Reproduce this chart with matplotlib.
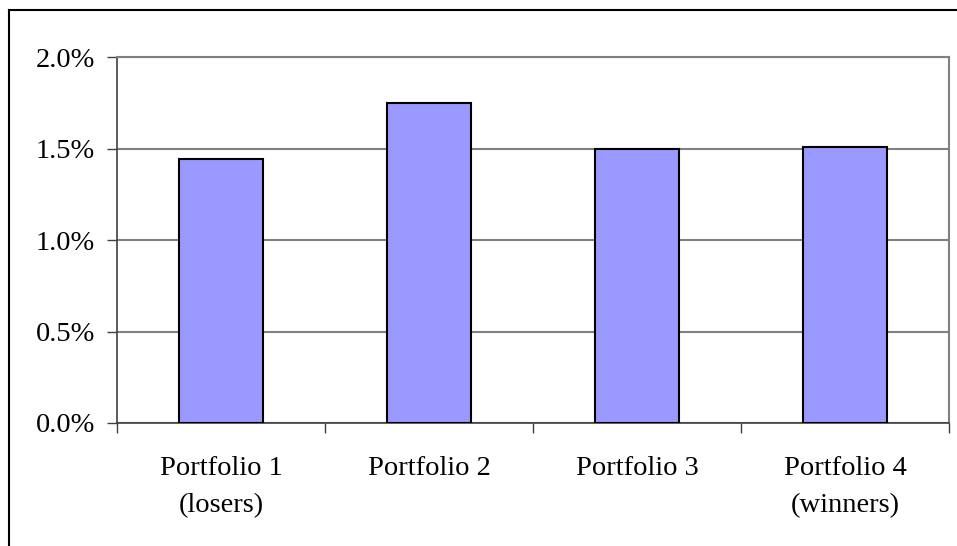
import matplotlib.pyplot as plt
from matplotlib.lines import Line2D
from matplotlib.ticker import FuncFormatter

# average monthly returns per momentum portfolio (%)
portfolios = ['Portfolio 1\n(losers)', 'Portfolio 2', 'Portfolio 3', 'Portfolio 4\n(winners)']
returns = [1.44, 1.75, 1.50, 1.51]
y_ticks = [0.0, 0.5, 1.0, 1.5, 2.0]

plt.rcParams['font.family'] = ['Liberation Serif', 'DejaVu Serif']

fig = plt.figure(figsize=(9.57, 5.46), dpi=100)
ax = fig.add_axes([117 / 957, 1 - 423 / 546, (949 - 117) / 957, (423 - 57) / 546])

x = range(len(portfolios))
ax.bar(x, returns, width=0.4, color='#9999FF', edgecolor='black', linewidth=1.5, zorder=3)

ax.set_xlim(-0.5, len(portfolios) - 0.5)
ax.set_ylim(0, 2.0)
ax.set_yticks(y_ticks)
ax.yaxis.set_major_formatter(FuncFormatter(lambda v, p: f'{v:.1f}%'))
ax.grid(axis='y', color='#808080', linewidth=1.5, zorder=0)

# labels under each bar, tick marks between categories
ax.set_xticks(list(x))
ax.set_xticklabels(portfolios, linespacing=1.6)
ax.set_xticks([i - 0.5 for i in range(len(portfolios) + 1)], minor=True)
ax.tick_params(axis='x', which='major', length=0, pad=24, labelsize=20.5)
ax.tick_params(axis='x', which='minor', length=7, width=1, color='#404040', direction='out')
ax.tick_params(axis='y', length=7, width=1, color='#404040', pad=9, labelsize=20.5)

for side in ['left', 'bottom']:
    ax.spines[side].set_color('#404040')
    ax.spines[side].set_linewidth(1.2)
for side in ['right', 'top']:
    ax.spines[side].set_color('#808080')
    ax.spines[side].set_linewidth(1.5)

# chart area frame
fig.add_artist(Line2D([9 / 957, 9 / 957], [0, 1 - 10 / 546], color='black', lw=1.5))
fig.add_artist(Line2D([9 / 957, 1], [1 - 10 / 546, 1 - 10 / 546], color='black', lw=1.5))

fig.savefig('out.png', dpi=100)
